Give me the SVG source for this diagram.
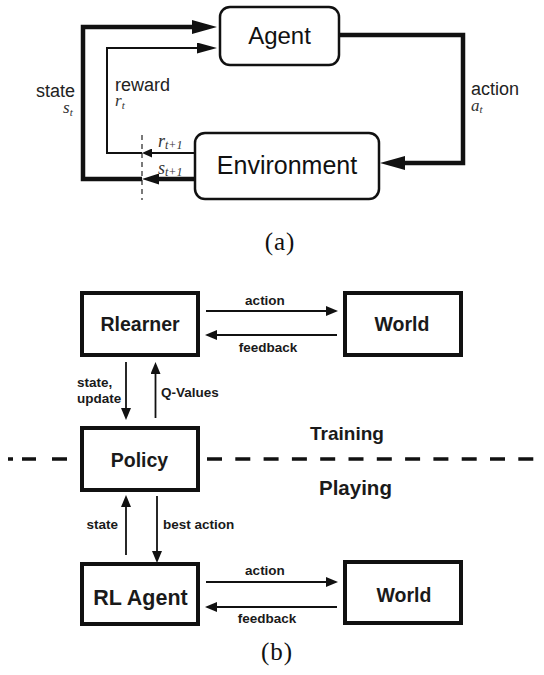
<svg xmlns="http://www.w3.org/2000/svg" width="544" height="675" viewBox="0 0 544 675">
<style>
.rbox{fill:#fff;stroke:#111;stroke-width:2.5}
.sbox{fill:#fff;stroke:#111;stroke-width:4}
.big{font-family:"Liberation Sans",Arial,sans-serif;fill:#111}
.lab{font-family:"Liberation Sans",Arial,sans-serif;font-size:18px;fill:#222}
.math{font-family:"Liberation Serif","Times New Roman",serif;font-style:italic;fill:#333}
.bl{font-family:"Liberation Sans",Arial,sans-serif;font-weight:bold;fill:#1a1a1a}
.cap{font-family:"Liberation Serif","Times New Roman",serif;font-size:25px;fill:#111}
.thick{fill:none;stroke:#111;stroke-width:4.5}
.thin{fill:none;stroke:#111;stroke-width:2}
.bar{fill:none;stroke:#111;stroke-width:1.8}
</style>
<defs>
<marker id="ahBig" markerUnits="userSpaceOnUse" markerWidth="26" markerHeight="14" refX="0" refY="7" orient="auto"><path d="M0,0 L25,7 L0,14 z" fill="#111"/></marker>
<marker id="ahMed" markerUnits="userSpaceOnUse" markerWidth="21" markerHeight="11" refX="0" refY="5.5" orient="auto"><path d="M0,0 L20,5.5 L0,11 z" fill="#111"/></marker>
<marker id="ahS" markerUnits="userSpaceOnUse" markerWidth="18" markerHeight="11" refX="0" refY="5.5" orient="auto"><path d="M0,0 L17,5.5 L0,11 z" fill="#111"/></marker>
<marker id="ahXS" markerUnits="userSpaceOnUse" markerWidth="11" markerHeight="9" refX="0" refY="4.5" orient="auto"><path d="M0,0 L10,4.5 L0,9 z" fill="#111"/></marker>
<marker id="ahB" markerUnits="userSpaceOnUse" markerWidth="12" markerHeight="10" refX="0" refY="5" orient="auto"><path d="M0,0 L12,5 L0,10 z" fill="#111"/></marker>
</defs>

<g id="connectors">
  <path class="thick" d="M142,179 H83 V27 H192" marker-end="url(#ahBig)"/>
  <path class="thin" d="M142,153 H107 V48 H197" marker-end="url(#ahMed)"/>
  <path class="thick" d="M339,35 H463 V163 H405" marker-end="url(#ahBig)"/>
  <path class="thin" d="M195,153 H152" marker-end="url(#ahXS)"/>
  <path class="thick" d="M195,179 H159" marker-end="url(#ahS)"/>
  <line x1="142" y1="135" x2="142" y2="200" stroke="#222" stroke-width="1.2" stroke-dasharray="5 4"/>
  <path class="bar" d="M206,311 H326" marker-end="url(#ahB)"/>
  <path class="bar" d="M337,335 H217" marker-end="url(#ahB)"/>
  <path class="bar" d="M126,362 V408" marker-end="url(#ahB)"/>
  <path class="bar" d="M155.5,418 V374" marker-end="url(#ahB)"/>
  <path d="M8,459 H13 M22,459 H36 M52,459 H67" stroke="#111" stroke-width="3.5" fill="none"/>
  <line x1="207" y1="459" x2="544" y2="459" stroke="#111" stroke-width="3.5" stroke-dasharray="15 13.3"/>
  <path class="bar" d="M126,555 V507" marker-end="url(#ahB)"/>
  <path class="bar" d="M157,496 V551" marker-end="url(#ahB)"/>
  <path class="bar" d="M206,582 H326" marker-end="url(#ahB)"/>
  <path class="bar" d="M337,607 H217" marker-end="url(#ahB)"/>
</g>

<g id="agent">
  <rect class="rbox" x="220" y="7" width="119" height="58" rx="10"/>
  <text class="big" x="279.5" y="44" font-size="24" text-anchor="middle">Agent</text>
</g>
<g id="environment">
  <rect class="rbox" x="195" y="133" width="184" height="66" rx="10"/>
  <text class="big" x="287" y="174" font-size="25" text-anchor="middle">Environment</text>
</g>

<g id="labels-a">
  <text class="lab"><tspan x="36" y="97">state</tspan><tspan class="math" x="63" y="113" font-size="17">s</tspan><tspan class="math" font-size="11" dy="3">t</tspan></text>
  <text class="lab"><tspan x="115" y="91">reward</tspan><tspan class="math" x="115" y="106" font-size="17">r</tspan><tspan class="math" font-size="11" dy="3">t</tspan></text>
  <text class="lab"><tspan x="471" y="95">action</tspan><tspan class="math" x="471" y="111" font-size="17">a</tspan><tspan class="math" font-size="11" dy="2">t</tspan></text>
  <text class="math" x="158" y="147" font-size="18">r<tspan font-size="12" dy="2">t+1</tspan></text>
  <text class="math" x="158" y="174" font-size="18">s<tspan font-size="12" dy="2">t+1</tspan></text>
  <text class="cap" x="280" y="250" text-anchor="middle" letter-spacing="1">(a)</text>
</g>

<g id="rlearner">
  <rect class="sbox" x="82" y="293" width="116" height="62"/>
  <text class="bl" x="140" y="331" font-size="19.5" text-anchor="middle">Rlearner</text>
</g>
<g id="world-training">
  <rect class="sbox" x="345" y="293" width="116" height="62"/>
  <text class="bl" x="402" y="331" font-size="19.5" text-anchor="middle">World</text>
</g>
<g id="policy">
  <rect class="sbox" x="82" y="428" width="116" height="62"/>
  <text class="bl" x="139.5" y="467" font-size="19.5" text-anchor="middle">Policy</text>
</g>
<g id="rl-agent">
  <rect class="sbox" x="82" y="564" width="116" height="60"/>
  <text class="bl" x="140.5" y="605" font-size="21.5" text-anchor="middle">RL Agent</text>
</g>
<g id="world-playing">
  <rect class="sbox" x="345" y="562" width="116" height="61"/>
  <text class="bl" x="404" y="602" font-size="19.5" text-anchor="middle">World</text>
</g>

<g id="labels-b">
  <text class="bl" x="265" y="305" font-size="13.5" text-anchor="middle">action</text>
  <text class="bl" x="268" y="352" font-size="13.5" text-anchor="middle">feedback</text>
  <text class="bl" font-size="13.5"><tspan x="77" y="387">state,</tspan><tspan x="77" y="403">update</tspan></text>
  <text class="bl" x="161" y="397" font-size="13.5">Q-Values</text>
  <text class="bl" x="310" y="440" font-size="19">Training</text>
  <text class="bl" x="319" y="495" font-size="20.5">Playing</text>
  <text class="bl" x="118" y="529" font-size="13.5" text-anchor="end">state</text>
  <text class="bl" x="163" y="529" font-size="13.5">best action</text>
  <text class="bl" x="265" y="575" font-size="13.5" text-anchor="middle">action</text>
  <text class="bl" x="267" y="623" font-size="13.5" text-anchor="middle">feedback</text>
  <text class="cap" x="277" y="660" text-anchor="middle" letter-spacing="1">(b)</text>
</g>
</svg>
